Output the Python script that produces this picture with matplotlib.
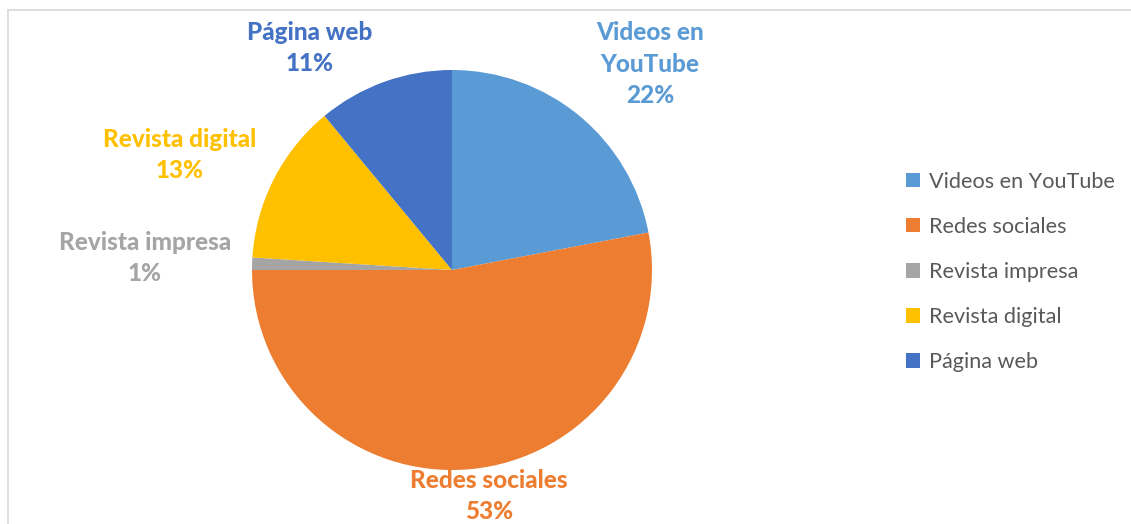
import matplotlib.pyplot as plt
from matplotlib.patches import Patch
from matplotlib.lines import Line2D

# data to plot
categories = ['Videos en YouTube', 'Redes sociales', 'Revista impresa',
              'Revista digital', 'Página web']
label_names = ['Videos en\nYouTube', 'Redes sociales', 'Revista impresa',
               'Revista digital', 'Página web']
values = [22, 53, 1, 13, 11]
colors = ['#5B9BD5', '#ED7D31', '#A5A5A5', '#FFC000', '#4472C4']

# label placement (data units, pie radius = 1)
label_pos = [(0.99, 1.03), (0.185, -1.13), (-1.535, 0.06),
             (-1.36, 0.575), (-0.71, 1.11)]

plt.rcParams['font.family'] = ['Lato', 'DejaVu Sans']

W, H = 1131, 524
fig = plt.figure(figsize=(W / 100, H / 100), dpi=100)
ax = fig.add_axes([252 / W, (H - 470) / H, 400 / W, 400 / H])

wedges, _ = ax.pie(values, colors=colors, startangle=90, counterclock=False,
                   radius=1, wedgeprops=dict(linewidth=0))
ax.set_xlim(-1, 1)
ax.set_ylim(-1, 1)
ax.set_aspect('equal')
ax.axis('off')

total = sum(values)
for name, v, c, (x, y) in zip(label_names, values, colors, label_pos):
    ax.text(x, y, '%s\n%d%%' % (name, round(100 * v / total)), color=c,
            fontsize=17.5, fontweight='black', ha='center', va='center',
            linespacing=1.43, clip_on=False)

handles = [Patch(facecolor=c, edgecolor='none') for c in colors]
fig.legend(handles, categories, loc='center left',
           bbox_to_anchor=(906 / W, 1 - 272 / H), frameon=False,
           fontsize=15.6, labelcolor='#595959', handlelength=0.65,
           handleheight=0.65, handletextpad=0.4, labelspacing=1.16,
           borderpad=0, borderaxespad=0)

# chart area border (top and left visible)
fig.add_artist(Line2D([8 / W, 8 / W], [0, 1 - 10 / H], color='#D9D9D9', lw=1.2))
fig.add_artist(Line2D([8 / W, 1], [1 - 10 / H, 1 - 10 / H], color='#D9D9D9', lw=1.2))

fig.savefig('out.png', dpi=100, facecolor='white')
